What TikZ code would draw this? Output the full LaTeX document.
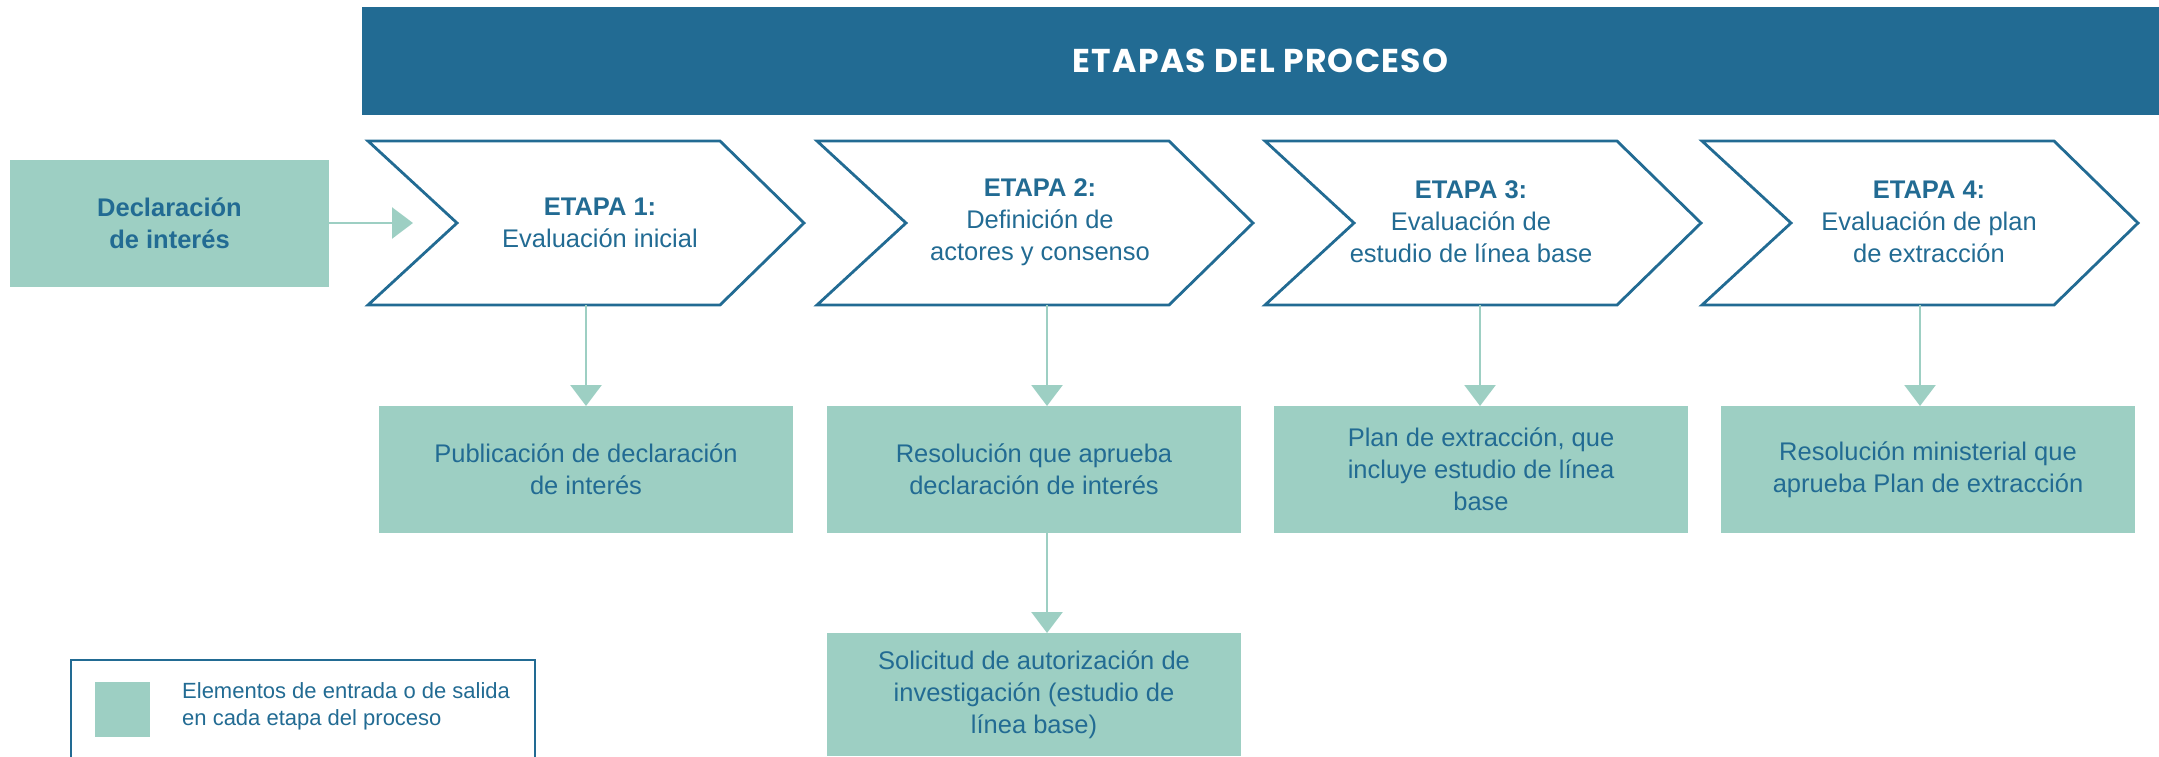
\documentclass[tikz,border=0pt]{standalone}
\usepackage{fontspec}
\setmainfont{Liberation Sans}
\newfontfamily\headfont[LetterSpace=4]{Poppins}
\usetikzlibrary{arrows.meta,calc}
\definecolor{dblue}{RGB}{34,107,147}
\definecolor{tealfill}{RGB}{157,207,195}
\newcommand\chevshape[1]{\draw[chevline] (#1,141) -- ++(352,0) -- ++(84,82) -- ++(-84,82) -- ++(-352,0) -- ++(89,-82) -- cycle;}
\begin{document}
\begin{tikzpicture}[x=1pt,y=-1pt,
  chevline/.style={draw=dblue,line width=2.8pt,line join=miter},
  etxt/.style={text=dblue,align=center,font=\fontsize{25.5}{32}\selectfont,inner sep=0pt},
  outbox/.style={fill=tealfill,text=dblue,align=center,font=\fontsize{25.5}{32}\selectfont,minimum width=414pt,minimum height=127pt,inner sep=0pt,outer sep=0pt},
  arr/.style={draw=tealfill,line width=2.7pt,-{Triangle[length=21pt,width=31pt]}},
]
\useasboundingbox (0,0) rectangle (2159,756);
% header
\node[fill=dblue,minimum width=1797pt,minimum height=108pt,inner sep=0pt,outer sep=0pt,text=white,font=\headfont\bfseries\fontsize{33}{38}\selectfont] (head) at (1260.5,61) {ETAPAS DEL PROCESO};
% input
\node[outbox,minimum width=319pt,minimum height=127pt,font=\bfseries\fontsize{25.5}{32}\selectfont] (decl) at (169.5,223) {Declaración\\de interés};
\coordinate (in1) at (413,223);
\draw[arr] (decl.east) -- (in1);
% chevrons
\chevshape{368}
\chevshape{817}
\chevshape{1265}
\chevshape{1702}
\node[etxt] (e1) at (600,223) {\textbf{ETAPA 1:}\\Evaluación inicial};
\node[etxt] (e2) at (1040,222) {\textbf{ETAPA 2:}\\Definición de\\actores y consenso};
\node[etxt] (e3) at (1471,222) {\textbf{ETAPA 3:}\\Evaluación de\\estudio de línea base};
\node[etxt] (e4) at (1929,222) {\textbf{ETAPA 4:}\\Evaluación de plan\\de extracción};
% outputs
\node[outbox] (b1) at (586,469.5) {Publicación de declaración\\de interés};
\node[outbox] (b2) at (1034,469.5) {Resolución que aprueba\\declaración de interés};
\node[outbox] (b3) at (1481,469.5) {Plan de extracción, que\\incluye estudio de línea\\base};
\node[outbox] (b4) at (1928,469.5) {Resolución ministerial que\\aprueba Plan de extracción};
\node[outbox,minimum height=123pt] (b5) at (1034,694.5) {Solicitud de autorización de\\investigación (estudio de\\línea base)};
% connectors
\coordinate (c1) at (586,305);
\coordinate (c2) at (1047,305);
\coordinate (c3) at (1480,305);
\coordinate (c4) at (1920,305);
\coordinate (d2) at (1047,533);
\draw[arr] (c1) -- (c1 |- b1.north);
\draw[arr] (c2) -- (c2 |- b2.north);
\draw[arr] (c3) -- (c3 |- b3.north);
\draw[arr] (c4) -- (c4 |- b4.north);
\draw[arr] (d2) -- (d2 |- b5.north);
% legend
\draw[draw=dblue,line width=2.8pt] (71,757) -- (71,660) -- (535,660) -- (535,757);
\node[fill=tealfill,minimum size=55pt,inner sep=0pt] (legsq) at (122.5,709.5) {};
\node[anchor=west,text=dblue,align=left,font=\fontsize{22}{27}\selectfont,inner sep=0pt] (legtxt) at (182,706.5) {Elementos de entrada o de salida\\en cada etapa del proceso};
\end{tikzpicture}
\end{document}
